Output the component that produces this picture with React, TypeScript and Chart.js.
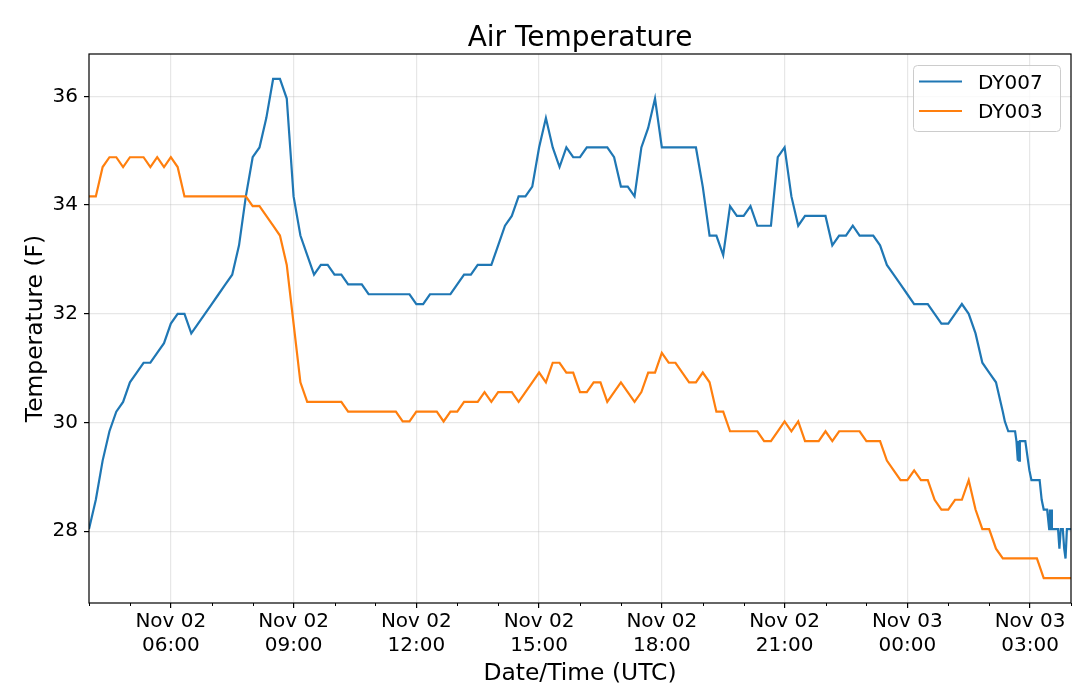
import { useEffect, useRef } from "react";
import { Chart, registerables } from "chart.js";

Chart.register(...registerables);

// Time axis: minutes after Nov 02 04:00 UTC
const sampleStep = 10;

// DY007, 10-minute samples from 04:00 to 01:20
const dy007Temps = [
  28.04, 28.58, 29.3, 29.84, 30.2, 30.38,
  30.74, 30.92, 31.1, 31.1, 31.28, 31.46,
  31.82, 32.0, 32.0, 31.64, 31.82, 32.0,
  32.18, 32.36, 32.54, 32.72, 33.26, 34.16,
  34.88, 35.06, 35.6, 36.32, 36.32, 35.96,
  34.16, 33.44, 33.08, 32.72, 32.9, 32.9,
  32.72, 32.72, 32.54, 32.54, 32.54, 32.36,
  32.36, 32.36, 32.36, 32.36, 32.36, 32.36,
  32.18, 32.18, 32.36, 32.36, 32.36, 32.36,
  32.54, 32.72, 32.72, 32.9, 32.9, 32.9,
  33.26, 33.62, 33.8, 34.16, 34.16, 34.34,
  35.06, 35.6, 35.06, 34.7, 35.06, 34.88,
  34.88, 35.06, 35.06, 35.06, 35.06, 34.88,
  34.34, 34.34, 34.16, 35.06, 35.42, 35.96,
  35.06, 35.06, 35.06, 35.06, 35.06, 35.06,
  34.34, 33.44, 33.44, 33.08, 33.98, 33.8,
  33.8, 33.98, 33.62, 33.62, 33.62, 34.88,
  35.06, 34.16, 33.62, 33.8, 33.8, 33.8,
  33.8, 33.26, 33.44, 33.44, 33.62, 33.44,
  33.44, 33.44, 33.26, 32.9, 32.72, 32.54,
  32.36, 32.18, 32.18, 32.18, 32.0, 31.82,
  31.82, 32.0, 32.18, 32.0, 31.64, 31.1,
  30.92, 30.74, 30.2,
];

// DY007 after 01:20, denser readings
const dy007TailMinutes = [
  1343, 1348, 1358, 1360, 1362, 1363, 1364, 1365, 1373, 1377,
  1379, 1382, 1394, 1397, 1400, 1405, 1408, 1409, 1410, 1411,
  1412, 1421, 1423, 1425, 1428, 1430, 1432, 1434, 1440,
];
const dy007TailTemps = [
  30.02, 29.84, 29.84, 29.66, 29.3, 29.66, 29.3, 29.66, 29.66, 29.3,
  29.12, 28.94, 28.94, 28.58, 28.4, 28.4, 28.04, 28.4, 28.04, 28.4,
  28.04, 28.04, 27.68, 28.04, 28.04, 27.68, 27.5, 28.04, 28.04,
];

// DY003, 10-minute samples from 04:00 to 04:00
const dy003Temps = [
  34.16, 34.16, 34.7, 34.88, 34.88, 34.7,
  34.88, 34.88, 34.88, 34.7, 34.88, 34.7,
  34.88, 34.7, 34.16, 34.16, 34.16, 34.16,
  34.16, 34.16, 34.16, 34.16, 34.16, 34.16,
  33.98, 33.98, 33.8, 33.62, 33.44, 32.9,
  31.82, 30.74, 30.38, 30.38, 30.38, 30.38,
  30.38, 30.38, 30.2, 30.2, 30.2, 30.2,
  30.2, 30.2, 30.2, 30.2, 30.02, 30.02,
  30.2, 30.2, 30.2, 30.2, 30.02, 30.2,
  30.2, 30.38, 30.38, 30.38, 30.56, 30.38,
  30.56, 30.56, 30.56, 30.38, 30.56, 30.74,
  30.92, 30.74, 31.1, 31.1, 30.92, 30.92,
  30.56, 30.56, 30.74, 30.74, 30.38, 30.56,
  30.74, 30.56, 30.38, 30.56, 30.92, 30.92,
  31.28, 31.1, 31.1, 30.92, 30.74, 30.74,
  30.92, 30.74, 30.2, 30.2, 29.84, 29.84,
  29.84, 29.84, 29.84, 29.66, 29.66, 29.84,
  30.02, 29.84, 30.02, 29.66, 29.66, 29.66,
  29.84, 29.66, 29.84, 29.84, 29.84, 29.84,
  29.66, 29.66, 29.66, 29.3, 29.12, 28.94,
  28.94, 29.12, 28.94, 28.94, 28.58, 28.4,
  28.4, 28.58, 28.58, 28.94, 28.4, 28.04,
  28.04, 27.68, 27.5, 27.5, 27.5, 27.5,
  27.5, 27.5, 27.14, 27.14, 27.14, 27.14,
  27.14,
];

const xRange = [0, 1440];
const xTickMinutes = [120, 300, 480, 660, 840, 1020, 1200, 1380];
const xTickLabels = [
  ["Nov 02", "06:00"],
  ["Nov 02", "09:00"],
  ["Nov 02", "12:00"],
  ["Nov 02", "15:00"],
  ["Nov 02", "18:00"],
  ["Nov 02", "21:00"],
  ["Nov 03", "00:00"],
  ["Nov 03", "03:00"],
];
const xMinorStep = 60;
const yTicks = [28, 30, 32, 34, 36];

const seriesNames = ["DY007", "DY003"];
const seriesColors = ["#1f77b4", "#ff7f0e"];

const FONT = '"DejaVu Sans", sans-serif';

const dy007Points = [
  ...dy007Temps.map((y, i) => ({ x: i * sampleStep, y })),
  ...dy007TailMinutes.map((x, i) => ({ x, y: dy007TailTemps[i] })),
];
const dy003Points = dy003Temps.map((y, i) => ({ x: i * sampleStep, y }));

// matplotlib-style 5% margin on y
const allTemps = [...dy007Points, ...dy003Points].map((p) => p.y);
const yLo = Math.min(...allTemps);
const yHi = Math.max(...allTemps);
const yPad = (yHi - yLo) * 0.05;

const decorPlugin = {
  id: "decor",
  afterDraw(chart: any) {
    const { ctx, chartArea: a, scales } = chart;
    const cx = (a.left + a.right) / 2;
    ctx.save();

    // minor x ticks (hourly)
    ctx.strokeStyle = "#000";
    ctx.lineWidth = 1;
    for (let m = xRange[0]; m <= xRange[1]; m += xMinorStep) {
      if (xTickMinutes.includes(m)) continue;
      const px = Math.round(scales.x.getPixelForValue(m)) + 0.5;
      ctx.beginPath();
      ctx.moveTo(px, a.bottom);
      ctx.lineTo(px, a.bottom + 3);
      ctx.stroke();
    }

    // frame
    ctx.lineWidth = 1.2;
    ctx.strokeRect(a.left, a.top, a.right - a.left, a.bottom - a.top);

    // title and axis titles
    ctx.fillStyle = "#000";
    ctx.textAlign = "center";
    ctx.textBaseline = "alphabetic";
    ctx.font = `28px ${FONT}`;
    ctx.fillText("Air Temperature", cx, 46);
    ctx.font = `23.4px ${FONT}`;
    ctx.fillText("Date/Time (UTC)", cx, 680);
    ctx.save();
    ctx.translate(41.5, (a.top + a.bottom) / 2);
    ctx.rotate(-Math.PI / 2);
    ctx.fillText("Temperature (F)", 0, 0);
    ctx.restore();

    // legend
    const bw = 147;
    const bh = 66;
    const bx = a.right - 11 - bw;
    const by = a.top + 11;
    ctx.beginPath();
    ctx.roundRect(bx + 0.5, by + 0.5, bw, bh, 4);
    ctx.fillStyle = "rgba(255,255,255,0.8)";
    ctx.fill();
    ctx.strokeStyle = "#cccccc";
    ctx.lineWidth = 1;
    ctx.stroke();
    ctx.font = `20px ${FONT}`;
    ctx.textAlign = "left";
    seriesNames.forEach((name, i) => {
      const ry = by + 16.5 + i * 29.5;
      ctx.strokeStyle = seriesColors[i];
      ctx.lineWidth = 2.2;
      ctx.beginPath();
      ctx.moveTo(bx + 6, ry);
      ctx.lineTo(bx + 49, ry);
      ctx.stroke();
      ctx.fillStyle = "#000";
      ctx.fillText(name, bx + 65, ry + 7.3);
    });

    ctx.restore();
  },
};

export default function App() {
  const canvasRef = useRef<HTMLCanvasElement | null>(null);
  const chartRef = useRef<Chart | null>(null);

  useEffect(() => {
    document.body.style.margin = "0";
    if (chartRef.current) {
      chartRef.current.destroy();
      chartRef.current = null;
    }
    const canvas = canvasRef.current;
    if (!canvas) return;

    chartRef.current = new Chart(canvas, {
      type: "line",
      data: {
        datasets: [
          {
            label: seriesNames[0],
            data: dy007Points,
            borderColor: seriesColors[0],
            borderWidth: 2.2,
            pointRadius: 0,
            tension: 0,
            order: 1,
          },
          {
            label: seriesNames[1],
            data: dy003Points,
            borderColor: seriesColors[1],
            borderWidth: 2.2,
            pointRadius: 0,
            tension: 0,
            order: 0,
          },
        ],
      },
      options: {
        animation: false,
        responsive: true,
        maintainAspectRatio: false,
        layout: { padding: { top: 54, right: 9, left: 0, bottom: 0 } },
        plugins: {
          legend: { display: false },
          title: { display: false },
          tooltip: { enabled: false },
        },
        scales: {
          x: {
            type: "linear",
            min: xRange[0],
            max: xRange[1],
            afterBuildTicks: (scale: any) => {
              scale.ticks = xTickMinutes.map((value) => ({ value }));
            },
            afterFit: (scale: any) => {
              scale.height = 95;
            },
            ticks: {
              autoSkip: false,
              maxRotation: 0,
              minRotation: 0,
              padding: 2,
              color: "#000",
              font: { family: FONT, size: 20 },
              callback: (_value: any, index: number) => xTickLabels[index],
            },
            grid: {
              color: "rgba(176,176,176,0.3)",
              lineWidth: 1.2,
              tickColor: "#000",
              tickLength: 5,
            },
            border: { display: false },
          },
          y: {
            type: "linear",
            min: yLo - yPad,
            max: yHi + yPad,
            afterBuildTicks: (scale: any) => {
              scale.ticks = yTicks.map((value) => ({ value }));
            },
            afterFit: (scale: any) => {
              scale.width = 89;
            },
            ticks: {
              padding: 6,
              color: "#000",
              font: { family: FONT, size: 20 },
            },
            grid: {
              color: "rgba(176,176,176,0.3)",
              lineWidth: 1.2,
              tickColor: "#000",
              tickLength: 5,
            },
            border: { display: false },
          },
        },
      },
      plugins: [decorPlugin],
    });

    return () => {
      chartRef.current?.destroy();
      chartRef.current = null;
    };
  }, []);

  return (
    <div style={{ position: "relative", width: 1080, height: 698 }}>
      <canvas ref={canvasRef} />
    </div>
  );
}
